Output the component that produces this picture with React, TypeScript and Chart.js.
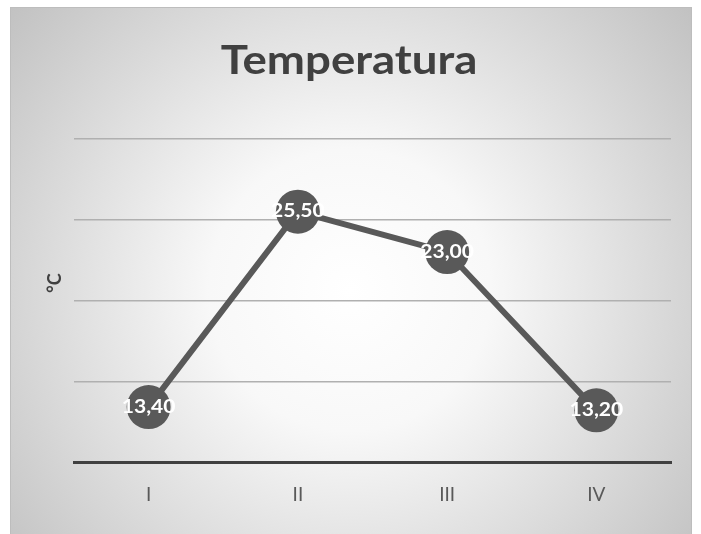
import React, { useEffect, useRef } from "react";
import { Chart, registerables } from "chart.js";

Chart.register(...registerables);

const categories = ["I", "II", "III", "IV"];
const temperatures = [13.4, 25.5, 23.0, 13.2];
const yMin = 10;
const yMax = 30;
const yStep = 5;
const titleText = "Temperatura";
const yAxisTitle = "°C";

const FONT = "Lato, 'Open Sans', sans-serif";

function stretchedText(ctx: any, text: string, x: number, y: number, sx: number) {
  ctx.save();
  ctx.translate(x, y);
  ctx.scale(sx, 1);
  ctx.fillText(text, 0, 0);
  ctx.restore();
}

const decorPlugin = {
  id: "decor",
  beforeDraw(chart: any) {
    const ctx = chart.ctx;
    ctx.save();
    const x0 = 10, y0 = 7, x1 = 692, y1 = 560;
    const g = ctx.createRadialGradient(350, 290, 0, 350, 290, 440);
    g.addColorStop(0, "#ffffff");
    g.addColorStop(0.32, "#f8f8f8");
    g.addColorStop(1, "#c2c2c2");
    ctx.fillStyle = g;
    ctx.fillRect(x0, y0, x1 - x0, y1 - y0);
    ctx.strokeStyle = "#bdbdbd";
    ctx.lineWidth = 1;
    ctx.strokeRect(x0 + 0.5, y0 + 0.5, x1 - x0 - 1, y1 - y0 - 1);
    // title
    ctx.fillStyle = "#404040";
    ctx.font = `bold 40px ${FONT}`;
    ctx.textAlign = "center";
    ctx.textBaseline = "alphabetic";
    stretchedText(ctx, titleText, 349, 74, 1.14);
    // y axis title
    ctx.translate(55, 283);
    ctx.rotate(-Math.PI / 2);
    ctx.font = `bold 18px ${FONT}`;
    ctx.textBaseline = "middle";
    ctx.fillText(yAxisTitle, 0, 0);
    ctx.restore();
  },
  afterDatasetsDraw(chart: any) {
    const ctx = chart.ctx;
    const meta = chart.getDatasetMeta(0);
    const data = chart.data.datasets[0].data;
    ctx.save();
    ctx.fillStyle = "#ffffff";
    ctx.font = `bold 18px ${FONT}`;
    ctx.textAlign = "center";
    ctx.textBaseline = "middle";
    meta.data.forEach((pt: any, i: number) => {
      stretchedText(ctx, Number(data[i]).toFixed(2).replace(".", ","), pt.x, pt.y, 1.17);
    });
    ctx.restore();
  },
};

export default function App() {
  const ref = useRef<HTMLCanvasElement>(null);
  useEffect(() => {
    if (!ref.current) return;
    const chart = new Chart(ref.current, {
      type: "line",
      data: {
        labels: categories,
        datasets: [
          {
            data: temperatures,
            borderColor: "#595959",
            backgroundColor: "#595959",
            borderWidth: 6,
            pointRadius: 22,
            pointHoverRadius: 22,
            pointBackgroundColor: "#595959",
            pointBorderWidth: 0,
            tension: 0,
          },
        ],
      },
      options: {
        animation: false,
        responsive: false,
        layout: { padding: { left: 74, top: 139, right: 30, bottom: 0 } },
        plugins: {
          legend: { display: false },
          title: { display: false },
          tooltip: { enabled: false },
        },
        scales: {
          x: {
            offset: true,
            grid: { display: false },
            border: { display: true, color: "#404040", width: 3 },
            ticks: {
              color: "#595959",
              font: { family: FONT, size: 19 },
              padding: 13,
            },
            afterFit: (s: any) => {
              s.height = 72;
            },
          },
          y: {
            min: yMin,
            max: yMax,
            ticks: { display: false, stepSize: yStep },
            grid: { color: "#b0b0b0", lineWidth: 1.5, drawTicks: false },
            border: { display: false },
            afterFit: (s: any) => {
              s.width = 0;
            },
          },
        },
      },
      plugins: [decorPlugin],
    });
    return () => chart.destroy();
  }, []);
  return (
    <div style={{ position: "fixed", left: 0, top: 0, width: 701, height: 534, background: "#ffffff" }}>
      <canvas ref={ref} width={701} height={534} style={{ display: "block" }} />
    </div>
  );
}
